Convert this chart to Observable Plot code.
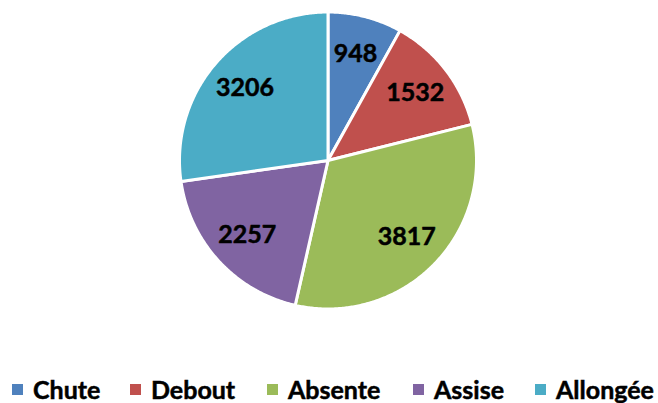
<!DOCTYPE html>
<html>
<head>
<meta charset="utf-8">
<script src="https://cdn.jsdelivr.net/npm/d3@7"></script>
<script src="https://cdn.jsdelivr.net/npm/@observablehq/plot@0.6"></script>
<style>
  html, body { margin: 0; padding: 0; background: #fff; }
  #wrap { width: 658px; height: 403px; position: relative; overflow: hidden; font-family: Lato, "Open Sans", sans-serif; }
  #legend { position: relative; height: 31px; font-weight: 700; font-size: 25px; color: #000; -webkit-text-stroke: 0.5px #000; }
  .item { display: flex; align-items: center; position: absolute; top: 2px; }
  .sw { width: 11px; height: 11px; margin-right: 10px; -webkit-text-stroke: 0; }
</style>
</head>
<body>
<div id="wrap">
  <div id="chart"></div>
  <div id="legend"></div>
</div>
<script>
const categories = ["Chute", "Debout", "Absente", "Assise", "Allongée"];
const values = [948, 1532, 3817, 2257, 3206];
const colors = ["#4F81BD", "#C0504D", "#9BBB59", "#8064A2", "#4BACC6"];

const W = 658, H = 372;
const cx = 327.5, cy = 160, R = 148.5, labelR = 110;

const arcs = d3.pie().sort(null).value((d) => d.value)(
  categories.map((name, i) => ({ name, value: values[i] }))
);

const poly = [];
for (const a of arcs) {
  poly.push({ name: a.data.name, x: 0, y: 0 });
  const n = Math.max(2, Math.ceil((a.endAngle - a.startAngle) / (Math.PI / 360)));
  for (let k = 0; k <= n; k++) {
    const t = a.startAngle + (a.endAngle - a.startAngle) * k / n;
    poly.push({ name: a.data.name, x: R * Math.sin(t), y: R * Math.cos(t) });
  }
  poly.push({ name: a.data.name, x: 0, y: 0 });
}
const labels = arcs.map((a) => {
  const m = (a.startAngle + a.endAngle) / 2;
  return { name: a.data.name, value: a.data.value, x: labelR * Math.sin(m), y: labelR * Math.cos(m) };
});

const chart = Plot.plot({
  width: W, height: H,
  margin: 0,
  x: { domain: [-cx, W - cx], axis: null },
  y: { domain: [-(H - cy), cy], axis: null },
  color: { domain: categories, range: colors },
  style: { background: "#fff", fontFamily: "Lato, 'Open Sans', sans-serif" },
  marks: [
    Plot.line(poly, { x: "x", y: "y", z: "name", fill: "name", stroke: "white", strokeWidth: 3, strokeLinejoin: "round", curve: "linear" }),
    Plot.text(labels, { x: "x", y: "y", text: (d) => String(d.value), fontSize: 25, fontWeight: 700, fill: "#000", stroke: "#000", strokeWidth: 0.5 })
  ]
});
document.getElementById("chart").appendChild(chart);

const lg = document.getElementById("legend");
const swX = [12, 130, 267, 413, 535];
categories.forEach((c, i) => {
  const it = document.createElement("div");
  it.className = "item";
  it.style.left = swX[i] + "px";
  const sw = document.createElement("div");
  sw.className = "sw";
  sw.style.background = colors[i];
  const tx = document.createElement("span");
  tx.textContent = c;
  it.appendChild(sw);
  it.appendChild(tx);
  lg.appendChild(it);
});
</script>
</body>
</html>
